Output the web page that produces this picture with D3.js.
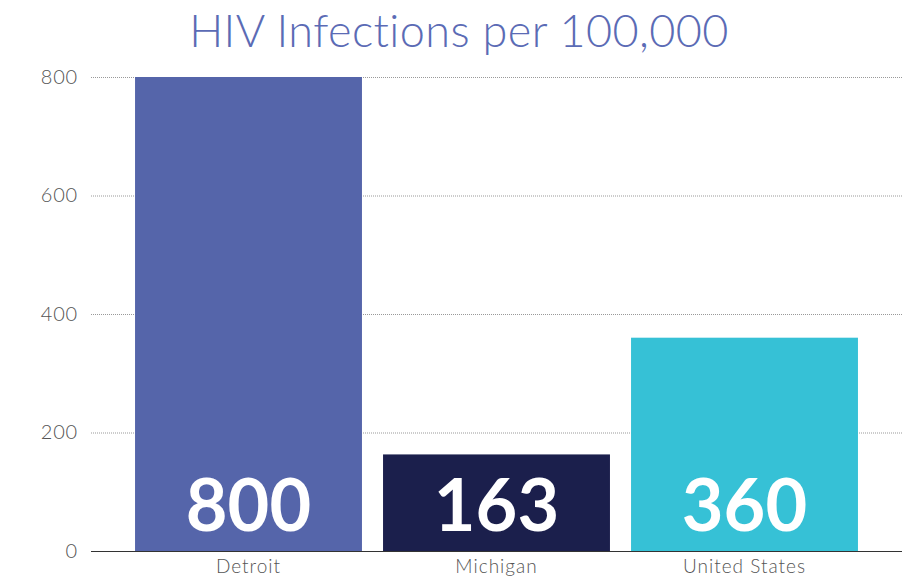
<!DOCTYPE html>
<html><head><meta charset="utf-8">
<script src="https://cdn.jsdelivr.net/npm/d3@7"></script>
<style>body{margin:0;background:#fff}svg{display:block}</style>
</head><body>
<script>
const categories = ["Detroit", "Michigan", "United States"];
const values = [800, 163, 360];
const colors = ["#5565aa", "#1b1f4c", "#36c1d6"];
const yTicks = [0, 200, 400, 600, 800];
const title = "HIV Infections per 100,000";

const W = 918, H = 579;
const svg = d3.select("body").append("svg").attr("width", W).attr("height", H);
const font = "Lato, 'Open Sans', sans-serif";

const x = d3.scaleBand().domain(categories).range([124.5, 868.5]).paddingInner(0.085).paddingOuter(0.0425);
const y = d3.scaleLinear().domain([0, 800]).range([551, 77]);

svg.append("text").attr("x", 459).attr("y", 47).attr("text-anchor", "middle")
  .attr("font-family", font).attr("font-weight", 300).attr("font-size", 45)
  .attr("letter-spacing", 0.4)
  .attr("fill", "#5b6bb5").text(title);

// gridlines
svg.append("g").selectAll("line").data(yTicks.filter(d => d > 0)).join("line")
  .attr("x1", 91).attr("x2", 902).attr("y1", d => y(d) + 0.5).attr("y2", d => y(d) + 0.5)
  .attr("stroke", "#999").attr("stroke-width", 1).attr("stroke-dasharray", "1,1");

// y axis labels
const yAxis = d3.axisLeft(y).tickValues(yTicks).tickSize(0).tickPadding(0);
const gy = svg.append("g").attr("transform", "translate(78,0)").call(yAxis);
gy.select(".domain").remove();
gy.selectAll("text").attr("font-family", font).attr("font-size", 20).attr("fill", "#555")
  .attr("font-weight", 300).attr("letter-spacing", 0.8);

// bars
svg.append("g").selectAll("rect").data(values).join("rect")
  .attr("x", (d, i) => x(categories[i])).attr("width", x.bandwidth())
  .attr("y", d => y(d)).attr("height", d => y(0) - y(d))
  .attr("fill", (d, i) => colors[i]);

// baseline
svg.append("line").attr("x1", 91).attr("x2", 902).attr("y1", y(0) + 0.5).attr("y2", y(0) + 0.5)
  .attr("stroke", "#333").attr("stroke-width", 1.2);

// x axis labels
const xAxis = d3.axisBottom(x).tickSize(0).tickPadding(0);
const gx = svg.append("g").attr("transform", "translate(0,559)").call(xAxis);
gx.select(".domain").remove();
gx.selectAll("text").attr("font-family", font).attr("font-size", 19).attr("fill", "#555")
  .attr("font-weight", 300).attr("letter-spacing", 1);

// value labels
svg.append("g").selectAll("text").data(values).join("text")
  .attr("x", (d, i) => x(categories[i]) + x.bandwidth() / 2).attr("y", 531)
  .attr("text-anchor", "middle").attr("font-family", font).attr("font-weight", 700)
  .attr("font-size", 72).attr("fill", "#fff").text(d => d);
</script>
</body></html>
